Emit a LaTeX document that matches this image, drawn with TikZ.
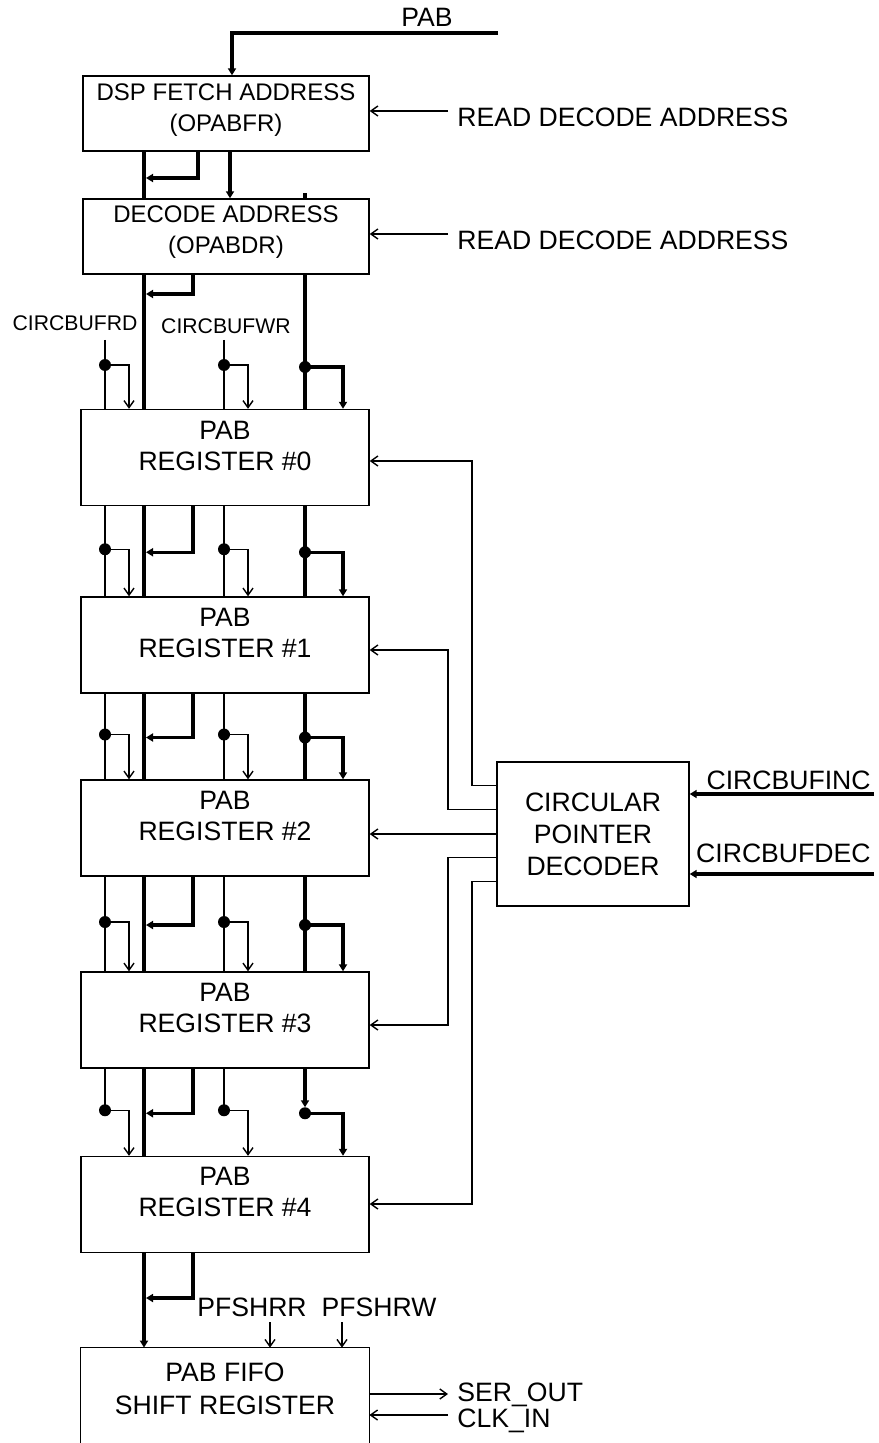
\documentclass[tikz,border=0pt]{standalone}
\usepackage{fontspec}
\setmainfont{Liberation Sans}
\usetikzlibrary{arrows.meta,calc}
\begin{document}
\begin{tikzpicture}[x=0.5pt,y=-0.5pt,
  font=\fontsize{13.3}{15.5}\selectfont,
  thn/.style={line width=0.7pt},
  thk/.style={line width=1.6pt},
  box/.style={draw,line width=0.7pt,inner sep=0pt,align=center},
  regbox/.style={box,minimum width=144pt,minimum height=48pt},
  txt/.style={inner sep=0pt,align=center},
  midtxt/.style={txt,font=\fontsize{12}{15.5}\selectfont},
  smltxt/.style={txt,font=\fontsize{10.6}{12}\selectfont},
  barb/.style={-{Straight Barb[length=3.5pt,width=5pt]}},
  tri/.style={-{Triangle[length=3.5pt,width=4pt]}}]
\useasboundingbox (0,0) rectangle (878,1443);

% column coordinates
\coordinate (cA) at (105,0);
\coordinate (cAb) at (129,0);
\coordinate (cB) at (144,0);
\coordinate (cBb) at (193,0);
\coordinate (cC) at (224,0);
\coordinate (cCb) at (248,0);
\coordinate (cD) at (305,0);
\coordinate (cDb) at (343,0);
\coordinate (cP) at (232,0);
\coordinate (cP2) at (230,0);
\coordinate (cF) at (198,0);

% boxes
\node[box,minimum width=143pt,minimum height=37.5pt] (f) at (226,113.5) {};
\node[midtxt] (ft) at (226,110) {DSP FETCH ADDRESS\\(OPABFR)};
\node[box,minimum width=143pt,minimum height=37.5pt] (d) at (226,236.5) {};
\node[midtxt] (dt) at (226,232) {DECODE ADDRESS\\(OPABDR)};

\node[regbox] (r0) at (225,457.5) {};
\node[regbox] (r1) at (225,645) {};
\node[regbox] (r2) at (225,828) {};
\node[regbox] (r3) at (225,1020) {};
\node[regbox] (r4) at (225,1204.5) {};
\node[txt] (r0t) at (225,445.5) {PAB\\REGISTER \#0};
\node[txt] (r1t) at (225,633) {PAB\\REGISTER \#1};
\node[txt] (r2t) at (225,816) {PAB\\REGISTER \#2};
\node[txt] (r3t) at (225,1008) {PAB\\REGISTER \#3};
\node[txt] (r4t) at (225,1192) {PAB\\REGISTER \#4};

\node[box,minimum width=96pt,minimum height=72pt,font=\fontsize{13.3}{16}\selectfont] (dec) at (593,834) {CIRCULAR\\POINTER\\DECODER};

\node[inner sep=0pt,minimum width=144pt,minimum height=47.5pt] (fifo) at (225,1395.5) {};
\draw[thn] (fifo.south west) |- (fifo.north east) -- (fifo.south east);
\node[txt,font=\fontsize{13.3}{16.5}\selectfont] (fifot) at (225,1388.5) {PAB FIFO\\SHIFT REGISTER};

% PAB input
\node[txt] (pab) at (427,17) {PAB};
\coordinate (pabR) at (498,33);
\draw[thk,tri] (pabR) -| (f.north -| cP);

% read decode address
\node[txt,anchor=west] (rda1) at (457,117) {READ DECODE ADDRESS};
\node[txt,anchor=west] (rda2) at (457,240) {READ DECODE ADDRESS};
\coordinate (ra1) at (448,111);
\coordinate (ra2) at (448,234);
\draw[thn,barb] (ra1) -- (ra1 -| f.east);
\draw[thn,barb] (ra2) -- (ra2 -| d.east);

% between fetch and decode
\draw[thk] (f.south -| cB) -- (d.north -| cB);
\draw[thk,tri] (f.south -| cF) |- ($(cB |- 0,178)+(2,0)$);
\draw[thk,tri] (f.south -| cP2) -- (d.north -| cP2);
\draw[thk] (d.north -| cD) -- ++(0,-5);

% below decode
\draw[thk] (d.south -| cB) -- (r0.north -| cB);
\draw[thk,tri] (d.south -| cBb) |- ($(cB |- 0,294)+(2,0)$);
\draw[thk] (d.south -| cD) -- (r0.north -| cD);
\fill (cD |- 0,367) circle[radius=6];
\draw[thk,tri] (cD |- 0,367) -| (r0.north -| cDb);

% CIRCBUFRD / CIRCBUFWR
\node[smltxt] (crd) at (75,323) {CIRCBUFRD};
\node[smltxt] (cwr) at (226,326) {CIRCBUFWR};
\coordinate (rdtop) at (105,340);
\coordinate (wrtop) at (224,340);
\draw[thn] (rdtop) -- (r0.north -| cA);
\fill (cA |- 0,365) circle[radius=6];
\draw[thn,barb] (cA |- 0,365) -| (r0.north -| cAb);
\draw[thn] (wrtop) -- (r0.north -| cC);
\fill (cC |- 0,365) circle[radius=6];
\draw[thn,barb] (cC |- 0,365) -| (r0.north -| cCb);

% between registers
\foreach \i/\j in {0/1,1/2,2/3}{
  \coordinate (mm) at ($(r\i.south)!0.5!(r\j.north)$);
  \coordinate (md) at ($(mm)+(0,-2)$);
  \coordinate (mb) at ($(mm)+(0,1)$);
  \draw[thn] (r\i.south -| cA) -- (r\j.north -| cA);
  \fill (md -| cA) circle[radius=6];
  \draw[thn,barb] (md -| cA) -| (r\j.north -| cAb);
  \draw[thk] (r\i.south -| cB) -- (r\j.north -| cB);
  \draw[thk,tri] (r\i.south -| cBb) |- ($(mb -| cB)+(2,0)$);
  \draw[thn] (r\i.south -| cC) -- (r\j.north -| cC);
  \fill (md -| cC) circle[radius=6];
  \draw[thn,barb] (md -| cC) -| (r\j.north -| cCb);
  \draw[thk] (r\i.south -| cD) -- (r\j.north -| cD);
  \fill (mb -| cD) circle[radius=6];
  \draw[thk,tri] (mb -| cD) -| (r\j.north -| cDb);
}
% between register 3 and 4
\coordinate (mm) at ($(r3.south)!0.5!(r4.north)$);
\coordinate (md) at ($(mm)+(0,-2)$);
\coordinate (mb) at ($(mm)+(0,1)$);
\draw[thn] (r3.south -| cA) -- (md -| cA);
\fill (md -| cA) circle[radius=6];
\draw[thn,barb] (md -| cA) -| (r4.north -| cAb);
\draw[thk] (r3.south -| cB) -- (r4.north -| cB);
\draw[thk,tri] (r3.south -| cBb) |- ($(mb -| cB)+(2,0)$);
\draw[thn] (r3.south -| cC) -- (md -| cC);
\fill (md -| cC) circle[radius=6];
\draw[thn,barb] (md -| cC) -| (r4.north -| cCb);
\draw[thk,tri] (r3.south -| cD) -- ($(mb -| cD)+(0,-6)$);
\fill (mb -| cD) circle[radius=6];
\draw[thk,tri] (mb -| cD) -| (r4.north -| cDb);

% decoder outputs
\coordinate (vx1) at (472,0);
\coordinate (vx2) at (448,0);
\path (r0.east |- 0,461) coordinate (t0);
\path (r1.east |- 0,650) coordinate (t1);
\path (r3.east |- 0,1025) coordinate (t3);
\path (r4.east |- 0,1204) coordinate (t4);
\draw[thn,barb] ($(dec.north west)+(0,24)$) -| (vx1 |- t0) -- (t0);
\draw[thn,barb] ($(dec.north west)+(0,48)$) -| (vx2 |- t1) -- (t1);
\draw[thn,barb] (dec.west) -- (dec.west -| r2.east);
\draw[thn,barb] ($(dec.north west)+(0,96)$) -| (vx2 |- t3) -- (t3);
\draw[thn,barb] ($(dec.north west)+(0,120)$) -| (vx1 |- t4) -- (t4);

% decoder inputs
\coordinate (inc) at (874,794);
\coordinate (dcc) at (874,874);
\draw[thk,tri] (inc) -- (inc -| dec.east);
\draw[thk,tri] (dcc) -- (dcc -| dec.east);
\node[txt,anchor=east] (inct) at (871,780) {CIRCBUFINC};
\node[txt,anchor=east] (dect) at (871,853) {CIRCBUFDEC};

% below register 4
\draw[thk,tri] (r4.south -| cB) -- (fifo.north -| cB);
\draw[thk,tri] (r4.south -| cBb) |- ($(cB |- 0,1298)+(2,0)$);
\node[txt] (pfr) at (252,1307) {PFSHRR};
\node[txt] (pfw) at (379,1307) {PFSHRW};
\coordinate (pfra) at (270,1322);
\coordinate (pfwa) at (342,1322);
\draw[thn,barb] (pfra) -- (pfra |- fifo.north);
\draw[thn,barb] (pfwa) -- (pfwa |- fifo.north);

% serial
\coordinate (so) at (448,1394);
\coordinate (ci) at (448,1415);
\draw[thn,barb] (so -| fifo.east) -- (so);
\draw[thn,barb] (ci) -- (ci -| fifo.east);
\node[txt,anchor=west] (sot) at (457,1395) {SER\_OUT};
\node[txt,anchor=west] (cit) at (457,1421) {CLK\_IN};
\end{tikzpicture}
\end{document}
